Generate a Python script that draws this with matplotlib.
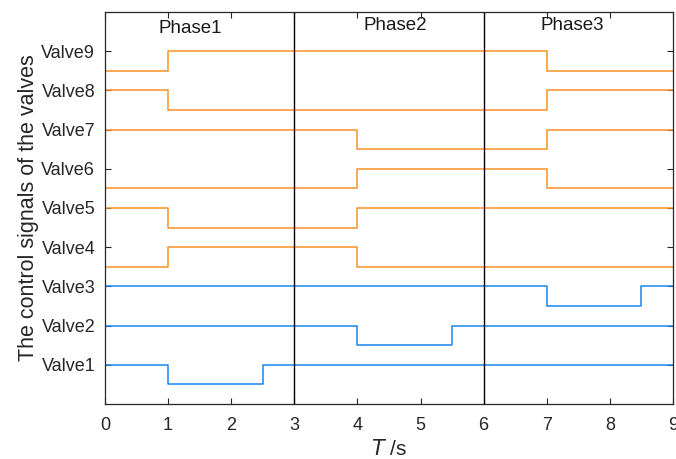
import matplotlib.pyplot as plt

plt.rcParams['font.family'] = ['Liberation Sans', 'DejaVu Sans']

# switching times (s) and on/off states for each valve (state holds until next time)
valve_names = ['Valve1', 'Valve2', 'Valve3', 'Valve4', 'Valve5',
               'Valve6', 'Valve7', 'Valve8', 'Valve9']
valve_times = [
    [0, 1, 2.5, 9],
    [0, 4, 5.5, 9],
    [0, 7, 8.5, 9],
    [0, 1, 4, 9],
    [0, 1, 4, 9],
    [0, 4, 7, 9],
    [0, 4, 7, 9],
    [0, 1, 7, 9],
    [0, 1, 7, 9],
]
valve_states = [
    [1, 0, 1, 1],
    [1, 0, 1, 1],
    [1, 0, 1, 1],
    [0, 1, 0, 0],
    [1, 0, 1, 1],
    [0, 1, 0, 0],
    [1, 0, 1, 1],
    [1, 0, 1, 1],
    [0, 1, 0, 0],
]
phase_bounds = [3, 6]
phase_labels = ['Phase1', 'Phase2', 'Phase3']
phase_pos = [(1.35, 9.57), (4.6, 9.66), (7.4, 9.66)]

blue = '#1a86f0'
orange = '#fb9224'

fig = plt.figure(figsize=(6.76, 4.59), dpi=100)
ax = fig.add_axes([105 / 676, 1 - 404 / 459, 568 / 676, 392 / 459])

for i, (t, s) in enumerate(zip(valve_times, valve_states)):
    level = [i + 1 - 0.5 * (1 - v) for v in s]
    color = blue if i < 3 else orange
    ax.step(t, level, where='post', color=color, lw=1.1)

for b in phase_bounds:
    ax.axvline(b, color='black', lw=1)

for lab, (px, py) in zip(phase_labels, phase_pos):
    ax.text(px, py, lab, ha='center', va='center', fontsize=13.5, color='#1a1a1a')

ax.set_xlim(0, 9)
ax.set_ylim(0, 10)
ax.set_xticks(range(10))
ax.set_yticks(range(1, 10))
ax.set_yticklabels(valve_names)
ax.tick_params(direction='in', top=True, right=True, labelsize=13,
               length=4, width=0.8, colors='#262626', labelcolor='#262626')
ax.tick_params(axis='x', pad=9)
ax.tick_params(axis='y', pad=7)
for sp in ax.spines.values():
    sp.set_color('#262626')
    sp.set_linewidth(0.9)

ax.set_xlabel(r'$\it{T}$ /s', fontsize=15, color='#262626', labelpad=4)
ax.set_ylabel('The control signals of the valves', fontsize=15.5, color='#262626', labelpad=2)

fig.savefig('out.png', dpi=100)
